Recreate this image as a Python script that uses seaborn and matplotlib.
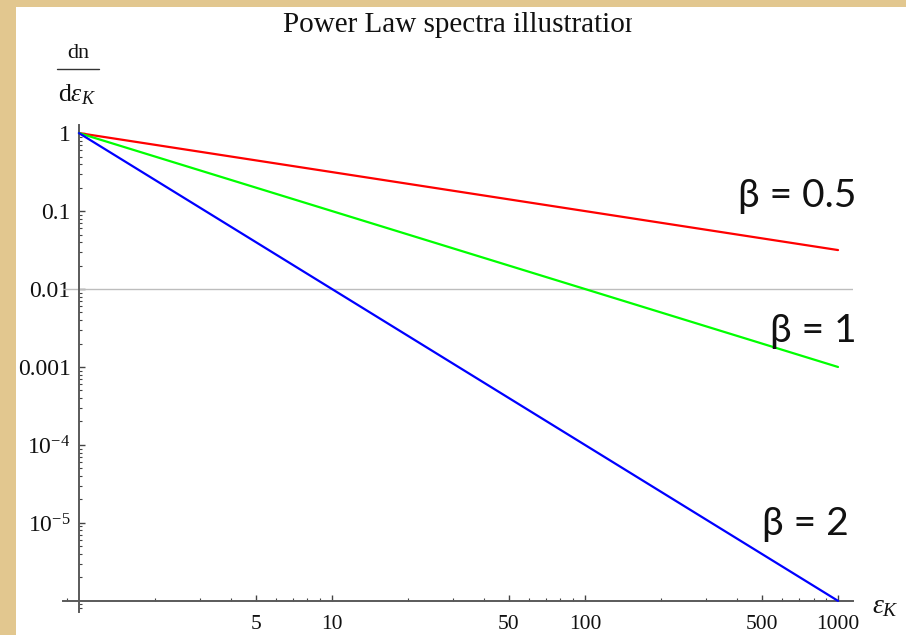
import matplotlib
matplotlib.use("Agg")
import matplotlib.pyplot as plt
import pandas as pd
import seaborn as sns
from matplotlib.lines import Line2D
from matplotlib.patches import Rectangle
from matplotlib.ticker import FixedLocator, FixedFormatter, LogLocator, NullFormatter

# Power-law spectra dn/dε ∝ ε^-β, endpoints at ε = 1 and ε = 1000
energy = [1, 1000]
flux_beta_05 = [1.0, 0.0316]
flux_beta_1 = [1.0, 0.001]
flux_beta_2 = [1.0, 1e-6]
series_labels = ["β=0.5", "β=1", "β=2"]
line_colors = ["#ff0000", "#00ff00", "#0000ff"]

x_tick_values = [5, 10, 50, 100, 500, 1000]
x_tick_labels = ["5", "10", "50", "100", "500", "1000"]
y_tick_values = [1, 0.1, 0.01, 0.001, 1e-4, 1e-5]
y_tick_labels = ["1", "0.1", "0.01", "0.001", r"$10^{-4}$", r"$10^{-5}$"]
reference_level = 0.01

df = pd.DataFrame({
    "energy": energy * 3,
    "flux": flux_beta_05 + flux_beta_1 + flux_beta_2,
    "series": [s for s in series_labels for _ in energy],
})

sns.set_style("white")
plt.rcParams["font.family"] = ["Liberation Serif", "DejaVu Serif"]
plt.rcParams["mathtext.fontset"] = "custom"
plt.rcParams["mathtext.rm"] = "Liberation Serif"
plt.rcParams["mathtext.it"] = "Liberation Serif:italic"

W, H = 906, 635
fig = plt.figure(figsize=(W / 100, H / 100), dpi=100)
fig.patch.set_facecolor("#e2c78f")
# white drawing panel over the parchment backdrop
fig.patches.append(Rectangle((16 / W, 0), 1 - 16 / W, 1 - 7 / H,
                             transform=fig.transFigure, facecolor="white",
                             edgecolor="none", zorder=-5))

ax = fig.add_axes([63 / W, 1 - 612 / H, (853 - 63) / W, (612 - 125) / H])
ax.set_zorder(2)
ax.set_facecolor("none")
ax.set_xscale("log")
ax.set_yscale("log")
ax.set_xlim(0.865, 1146)
ax.set_ylim(7.2e-7, 1.27)

ax.axhline(reference_level, color="#bdbdbd", lw=1.0, zorder=1)

sns.lineplot(data=df, x="energy", y="flux", hue="series",
             palette=dict(zip(series_labels, line_colors)),
             linewidth=1.6, legend=False, ax=ax, zorder=3)

for side in ("top", "right"):
    ax.spines[side].set_visible(False)
ax.spines["left"].set_position(("data", 1))
ax.spines["bottom"].set_position(("data", 1e-6))
for side in ("left", "bottom"):
    ax.spines[side].set_color("#5a5a5a")
    ax.spines[side].set_linewidth(1.4)
    ax.spines[side].set_zorder(2)

ax.xaxis.set_major_locator(FixedLocator(x_tick_values))
ax.xaxis.set_major_formatter(FixedFormatter(x_tick_labels))
ax.xaxis.set_minor_locator(LogLocator(base=10, subs=[2, 3, 4, 6, 7, 8, 9]))
ax.xaxis.set_minor_formatter(NullFormatter())
ax.yaxis.set_major_locator(FixedLocator(y_tick_values))
ax.yaxis.set_major_formatter(FixedFormatter(y_tick_labels))
ax.yaxis.set_minor_locator(LogLocator(base=10, subs=[2, 3, 4, 5, 6, 7, 8, 9], numticks=20))
ax.yaxis.set_minor_formatter(NullFormatter())

ax.tick_params(bottom=True, left=True, top=False, right=False, which="both")
ax.tick_params(which="major", direction="in", length=4.5, width=1.0,
               color="#444444", labelcolor="#111111")
ax.tick_params(which="minor", direction="in", length=2.5, width=0.8, color="#444444")
ax.tick_params(axis="x", which="major", pad=10, labelsize=15.5)
ax.tick_params(axis="y", which="major", pad=6, labelsize=17)
ax.set_xlabel("")
ax.set_ylabel("")

# title, cut off at the right edge of its frame
title_box = Rectangle((0, 0), 632 / W, 1, transform=fig.transFigure,
                      facecolor="none", edgecolor="none")
fig.patches.append(title_box)
title = fig.text(283 / W, 1 - 32 / H, "Power Law spectra illustration",
                 fontsize=21, color="#111111", ha="left", va="baseline")
title.set_clip_path(title_box)
title.set_clip_on(True)

# axis labels
fig.text(78 / W, 1 - 58 / H, "dn", fontsize=16, ha="center", va="baseline", color="#111111")
fig.add_artist(Line2D([57 / W, 99 / W], [1 - 69 / H, 1 - 69 / H],
                      transform=fig.transFigure, color="#333333", lw=1.0))
fig.text(77 / W, 1 - 101 / H, r"d$\varepsilon_K$", fontsize=18.5, ha="center",
         va="baseline", color="#111111")
fig.text(872 / W, 1 - 613 / H, r"$\varepsilon_K$", fontsize=20, ha="left",
         va="baseline", color="#111111")

# series annotations
beta_positions = [(738, 207), (770, 342), (762, 535)]
for label, (px, py) in zip(series_labels, beta_positions):
    fig.text(px / W, 1 - py / H, label.replace("=", " = "), fontsize=28,
             family=["Lato", "DejaVu Sans"], ha="left", va="baseline", color="#111111")

fig.savefig("out.png", dpi=100, facecolor=fig.get_facecolor())
